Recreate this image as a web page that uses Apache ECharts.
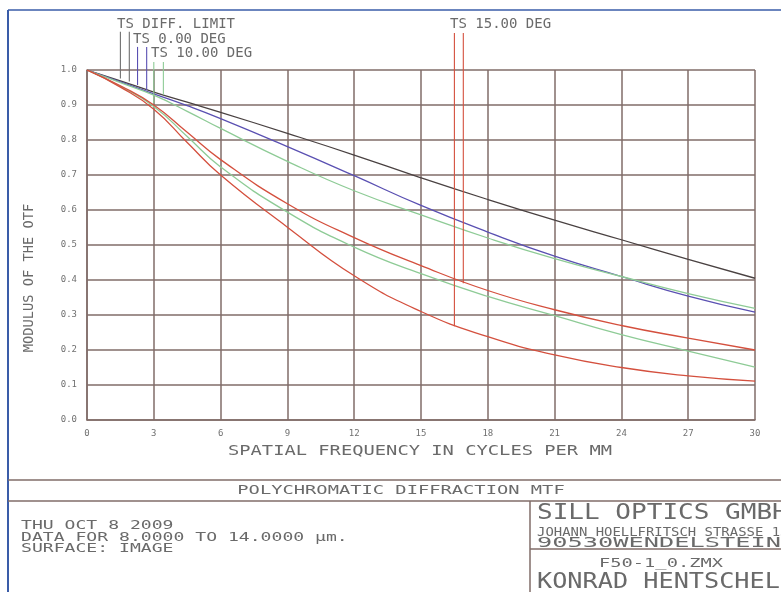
<!DOCTYPE html>
<html><head><meta charset="utf-8">
<script src="https://cdn.jsdelivr.net/npm/echarts@6/dist/echarts.min.js"></script>
<style>html,body{margin:0;padding:0;background:#fff}#c{width:781px;height:592px}</style>
</head><body><div id="c"></div>
<script>
// spatial frequency (cycles per mm)
const freqs = [0, 1.5, 3, 4.5, 6, 9, 12, 15, 18, 21, 24, 27, 30];
// modulus of the OTF
const diffLimit = [1.0, 0.969, 0.937, 0.908, 0.879, 0.819, 0.757, 0.692, 0.630, 0.571, 0.515, 0.459, 0.405];
const deg0      = [1.0, 0.966, 0.932, 0.898, 0.861, 0.781, 0.698, 0.613, 0.537, 0.468, 0.410, 0.354, 0.308];
const deg10T    = [1.0, 0.964, 0.928, 0.882, 0.833, 0.739, 0.655, 0.586, 0.520, 0.461, 0.410, 0.361, 0.319];
const deg10S    = [1.0, 0.953, 0.896, 0.810, 0.723, 0.594, 0.494, 0.418, 0.353, 0.298, 0.244, 0.197, 0.151];
const deg15T    = [1.0, 0.955, 0.900, 0.822, 0.744, 0.618, 0.521, 0.441, 0.370, 0.315, 0.270, 0.234, 0.200];
const deg15S    = [1.0, 0.951, 0.888, 0.793, 0.700, 0.551, 0.412, 0.310, 0.238, 0.186, 0.150, 0.126, 0.111];
// legend leader lines (frequency, curve value, top value)
const markerNames = ['TS DIFF. LIMIT', 'TS DIFF. LIMIT', 'TS 0.00 DEG', 'TS 0.00 DEG', 'TS 10.00 DEG', 'TS 10.00 DEG', 'TS 15.00 DEG', 'TS 15.00 DEG'];
const markerFreq = [1.5, 1.9, 2.27, 2.68, 3.0, 3.43, 16.5, 16.9];
const markerEnd  = [0.976, 0.967, 0.957, 0.943, 0.905, 0.929, 0.268, 0.391];
const markerTop  = [1.109, 1.109, 1.066, 1.066, 1.023, 1.023, 1.106, 1.106];
// axis ticks
const xMin = 0, xMax = 30, xStep = 3;
const yMin = 0, yMax = 1, yStep = 0.1;

const C = {
  diff: '#4a4242', blue: '#5a50b2', green: '#8ecb96', red: '#d4503e',
  grid: '#806c68', text: '#6a6a6a', frame: '#3a5ca8'
};
const FONT = '"DejaVu Sans Mono", "Liberation Mono", monospace';
const pairs = arr => freqs.map((f, i) => [f, arr[i]]);

const curveDefs = [
  { name: 'TS DIFF. LIMIT', data: diffLimit, color: C.diff },
  { name: 'TS 0.00 DEG', data: deg0, color: C.blue },
  { name: 'TS 10.00 DEG T', data: deg10T, color: C.green },
  { name: 'TS 10.00 DEG S', data: deg10S, color: C.green },
  { name: 'TS 15.00 DEG T', data: deg15T, color: C.red },
  { name: 'TS 15.00 DEG S', data: deg15S, color: C.red }
];
const markerColors = { 'TS DIFF. LIMIT': '#707070', 'TS 0.00 DEG': C.blue, 'TS 10.00 DEG': C.green, 'TS 15.00 DEG': C.red };

const series = curveDefs.map(d => ({
  name: d.name, type: 'line', data: pairs(d.data), smooth: 0.5,
  symbol: 'none', lineStyle: { color: d.color, width: 1.3 }, silent: true
}));
markerFreq.forEach((f, i) => {
  series.push({
    name: markerNames[i] + ' leader', type: 'line', clip: false, symbol: 'none', silent: true,
    data: [[f, markerEnd[i]], [f, markerTop[i]]],
    lineStyle: { color: markerColors[markerNames[i]], width: 1.1 }
  });
});

function txt(text, x, y, size, opts) {
  opts = opts || {};
  return {
    type: 'text', x: x, y: y, scaleX: opts.sx || 1, rotation: opts.rot || 0, silent: true,
    style: { text: text, font: (size) + 'px ' + FONT, fill: opts.fill || C.text,
      textAlign: opts.align || 'left', textVerticalAlign: opts.valign || 'middle' }
  };
}
function ln(x1, y1, x2, y2, color, w) {
  return { type: 'line', silent: true, shape: { x1, y1, x2, y2 }, style: { stroke: color, lineWidth: w } };
}

const graphics = [
  ln(8, 10, 781, 10, C.frame, 1.6),
  ln(8, 10, 8, 592, C.frame, 2),
  ln(8, 480, 781, 480, C.grid, 1.5),
  ln(8, 501, 781, 501, C.grid, 1.5),
  ln(530, 501, 530, 592, C.grid, 1.5),
  ln(530, 549, 781, 549, C.grid, 1.5),
  txt('TS DIFF. LIMIT', 117, 24, 14),
  txt('TS 0.00 DEG', 133, 39, 14),
  txt('TS 10.00 DEG', 151, 53, 14),
  txt('TS 15.00 DEG', 450, 24, 14),
  txt('SPATIAL FREQUENCY IN CYCLES PER MM', 420, 451, 13.5, { align: 'center', sx: 1.39 }),
  txt('MODULUS OF THE OTF', 29, 278, 13.7, { align: 'center', rot: Math.PI / 2 }),
  txt('POLYCHROMATIC DIFFRACTION MTF', 401, 491, 12.5, { align: 'center', sx: 1.5 }),
  txt('THU OCT 8 2009', 21, 526, 12.4, { sx: 1.46 }),
  txt('DATA FOR 8.0000 TO 14.0000 \u00b5m.', 21, 538, 12.4, { sx: 1.46 }),
  txt('SURFACE: IMAGE', 21, 549, 12.4, { sx: 1.46 }),
  txt('SILL OPTICS GMBH', 537, 514, 20.5, { sx: 1.27 }),
  txt('JOHANN HOELLFRITSCH STRASSE 13', 537, 533, 12, { sx: 1.16 }),
  txt('90530WENDELSTEIN', 537, 543, 13.7, { sx: 1.85 }),
  txt('F50-1_0.ZMX', 661, 564, 11.7, { align: 'center', sx: 1.6 }),
  txt('KONRAD HENTSCHEL', 537, 572, 20.5, { sx: 1.23, valign: 'top' })
];

const chart = echarts.init(document.getElementById('c'), null, { renderer: 'canvas' });
chart.setOption({
  animation: false,
  backgroundColor: '#ffffff',
  grid: { left: 87, right: 26, top: 70, bottom: 172, containLabel: false },
  xAxis: {
    type: 'value', min: xMin, max: xMax, interval: xStep,
    axisLine: { show: true, lineStyle: { color: C.grid, width: 1.5 } },
    axisTick: { show: false },
    splitLine: { show: true, lineStyle: { color: C.grid, width: 1.5 } },
    axisLabel: { color: '#707070', fontFamily: FONT, fontSize: 9, margin: 9 }
  },
  yAxis: {
    type: 'value', min: yMin, max: yMax, interval: yStep,
    axisLine: { show: true, lineStyle: { color: C.grid, width: 1.5 } },
    axisTick: { show: false },
    splitLine: { show: true, lineStyle: { color: C.grid, width: 1.5 } },
    axisLabel: { color: '#707070', fontFamily: FONT, fontSize: 9, margin: 10,
      formatter: v => v.toFixed(1) }
  },
  series: series,
  graphic: { elements: graphics }
});
</script>
</body></html>
